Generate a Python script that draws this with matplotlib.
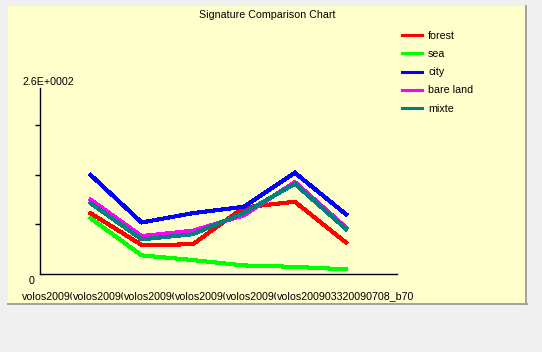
import matplotlib
matplotlib.use("Agg")
import matplotlib.pyplot as plt
from matplotlib.patches import Rectangle
from matplotlib.lines import Line2D

# signature values per band
bands = ["volos200903320090708_b10", "volos200903320090708_b20",
         "volos200903320090708_b30", "volos200903320090708_b40",
         "volos200903320090708_b50", "volos200903320090708_b70"]
forest = [85, 40.5, 41.5, 93, 101, 44]
sea = [78, 26, 19.5, 12, 10, 6.5]
city = [138.5, 72, 85, 94, 141.5, 83.5]
bare_land = [104, 53, 60.5, 82, 128.5, 65]
mixte = [99, 48.5, 55.5, 85.5, 126, 63]

names = ["forest", "sea", "city", "bare land", "mixte"]
colors = ["#FF0000", "#00FF00", "#0000FF", "#FF00FF", "#008080"]
ymax = 260
yticks = [70, 139, 208]

plt.rcParams['font.family'] = ['Liberation Sans', 'DejaVu Sans']
fs = 7.7
W, H = 542, 352
panel = "#FFFFCC"

fig = plt.figure(figsize=(W / 100, H / 100), dpi=100, facecolor="#F0F0F0")

# yellow chart panel with a grey edge on right/bottom
fig.patches.append(Rectangle((8 / W, 1 - 304 / H), 518 / W, 298 / H,
                             transform=fig.transFigure, facecolor=panel,
                             edgecolor="none", zorder=-2))
fig.lines.append(Line2D([526 / W, 526 / W], [1 - 304 / H, 1 - 6 / H],
                        transform=fig.transFigure, color="#A0A0A0", lw=1.4,
                        zorder=-1))
fig.lines.append(Line2D([8 / W, 526.5 / W], [1 - 304 / H, 1 - 304 / H],
                        transform=fig.transFigure, color="#A0A0A0", lw=1.4,
                        zorder=-1))

ax = fig.add_axes([39.5 / W, 1 - 274 / H, 357.5 / W, 186 / H])
ax.set_facecolor("none")

xs = list(range(1, len(bands) + 1))
for vals, name, c in zip([forest, sea, city, bare_land, mixte], names, colors):
    ax.plot(xs, vals, color=c, lw=2.2, label=name, antialiased=False,
            solid_joinstyle="miter")

ax.set_xlim(0, len(bands) + 1)
ax.set_ylim(0, ymax)
for s in ["top", "right"]:
    ax.spines[s].set_visible(False)
for s in ["left", "bottom"]:
    ax.spines[s].set_linewidth(1.0)
    ax.spines[s].set_color("black")
ax.set_xticks([])
ax.set_yticks(yticks)
ax.set_yticklabels([])
ax.tick_params(axis="y", length=3.6, width=1.0, color="black")

ax.annotate("2.6E+0002", xy=(0, 1), xycoords="axes fraction",
            xytext=(9, 6), textcoords="offset pixels",
            ha="center", va="center", fontsize=fs)
ax.annotate("0", xy=(0, 0), xycoords="axes fraction",
            xytext=(-8, -7), textcoords="offset pixels",
            ha="center", va="center", fontsize=fs)

# overlapping band labels, each drawn over the previous one
for i, b in enumerate(bands):
    ax.text(xs[i], -0.117, b, transform=ax.get_xaxis_transform(),
            ha="center", va="center", fontsize=fs, clip_on=False,
            bbox=dict(boxstyle="square,pad=0.12", facecolor=panel,
                      edgecolor="none"), zorder=3 + i)

fig.text(267 / W, 1 - 14.5 / H, "Signature Comparison Chart", ha="center",
         va="center", fontsize=fs)

fig.legend(loc="upper left", bbox_to_anchor=(401.7 / W, 1 - 31 / H),
           frameon=False, fontsize=fs, handlelength=1.9, handletextpad=0.56,
           labelspacing=0.76, borderpad=0, borderaxespad=0)

fig.savefig("out.png", dpi=100, facecolor=fig.get_facecolor())
